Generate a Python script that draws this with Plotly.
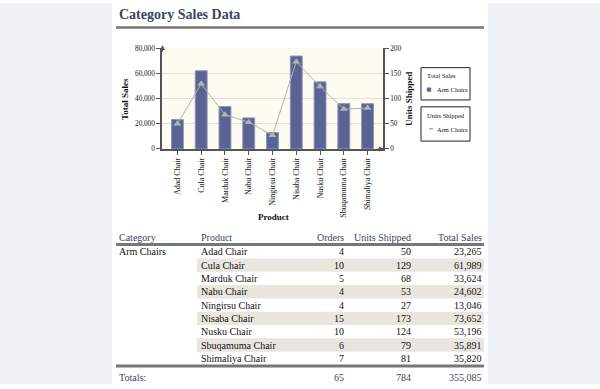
import plotly.graph_objects as go

# ---------------- data ----------------
products = ["Adad Chair", "Cula Chair", "Marduk Chair", "Nabu Chair", "Ningirsu Chair",
            "Nisaba Chair", "Nusku Chair", "Sbuqamuma Chair", "Shimaliya Chair"]
orders = [4, 10, 5, 4, 4, 15, 10, 6, 7]
units_shipped = [50, 129, 68, 53, 27, 173, 124, 79, 81]
total_sales = [23265, 61989, 33624, 24602, 13046, 73652, 53196, 35891, 35820]
category = "Arm Chairs"
sales_ticks = [0, 20000, 40000, 60000, 80000]
units_ticks = [0, 50, 100, 150, 200]
table_headers = ["Category", "Product", "Orders", "Units Shipped", "Total Sales"]

# ---------------- helpers ----------------
W, H = 600, 389
def fx(p): return p / W
def fy(p): return 1 - p / H

SERIF = "Liberation Serif"
SLATE = "#3b4562"
BAR = "#5b6394"
LINE = "#b3b3a7"
fmt = lambda v: f"{v:,}"

fig = go.Figure()

fig.add_trace(go.Bar(
    x=products, y=total_sales, name=category,
    marker=dict(color=BAR, line=dict(color="#8c93c0", width=1)),
))
fig.add_trace(go.Scatter(
    x=products, y=units_shipped, name=category, yaxis="y2",
    mode="lines+markers",
    line=dict(color=LINE, width=1),
    marker=dict(symbol="triangle-up", size=7, color=LINE),
))

shapes = [
    dict(type="rect", xref="paper", yref="paper", x0=0, x1=fx(112), y0=0, y1=1,
         fillcolor="#eef2f7", line_width=0, layer="below"),
    dict(type="rect", xref="paper", yref="paper", x0=fx(488), x1=1, y0=0, y1=1,
         fillcolor="#eef2f7", line_width=0, layer="below"),
    dict(type="line", xref="paper", yref="paper", x0=fx(116), x1=fx(484), y0=fy(25), y1=fy(25),
         line=dict(color="#777", width=2.5)),
]
annotations = [
    dict(text="<b>Category Sales Data</b>", x=fx(117), y=fy(12), xref="paper", yref="paper",
         xanchor="left", yanchor="middle", showarrow=False,
         font=dict(family=SERIF, size=14, color=SLATE)),
    dict(text="<b>Total Sales</b>", x=fx(125), y=fy(98), xref="paper", yref="paper",
         xanchor="center", yanchor="middle",
         textangle=-90, showarrow=False, font=dict(family=SERIF, size=9, color="#111")),
    dict(text="<b>Units Shipped</b>", x=fx(409), y=fy(98), xref="paper", yref="paper",
         xanchor="center", yanchor="middle",
         textangle=-90, showarrow=False, font=dict(family=SERIF, size=9, color="#111")),
    dict(text="<b>Product</b>", x=fx(273), y=fy(219), xref="paper", yref="paper",
         showarrow=False, font=dict(family=SERIF, size=9, color="#111")),
    dict(x=fx(162.5), y=fy(43), xref="paper", yref="paper", ax=0, ay=8, text="",
         showarrow=True, arrowhead=2, arrowsize=1, arrowwidth=1, arrowcolor="#555"),
    dict(x=fx(384), y=fy(149), xref="paper", yref="paper", ax=-8, ay=0, text="",
         showarrow=True, arrowhead=2, arrowsize=1, arrowwidth=1, arrowcolor="#555"),
]

# ---------------- legends (drawn boxes) ----------------
LEG_FONT = dict(family=SERIF, size=6.5, color="#111")
def txt(s, x, y, anchor="left", font=None):
    annotations.append(dict(text=s, x=fx(x), y=fy(y), xref="paper", yref="paper",
                            xanchor=anchor, yanchor="middle", showarrow=False,
                            font=font or LEG_FONT))
for (t0, t1) in [(66, 99), (106, 141)]:
    shapes.append(dict(type="rect", xref="paper", yref="paper", x0=fx(421), x1=fx(470),
                       y0=fy(t1), y1=fy(t0), line=dict(color="#222", width=1),
                       fillcolor="white"))
txt("Total Sales", 425, 74)
shapes.append(dict(type="rect", xref="paper", yref="paper", x0=fx(427), x1=fx(431),
                   y0=fy(90.5), y1=fy(86.5), fillcolor=BAR, line=dict(color="#8c93c0", width=0.5)))
txt(category, 435, 88.5)
txt("Units Shipped", 425, 115)
shapes.append(dict(type="line", xref="paper", yref="paper", x0=fx(429), x1=fx(433),
                   y0=fy(128.5), y1=fy(128.5), line=dict(color="#888", width=1)))
txt(category, 435, 129)

# ---------------- table ----------------
n = len(products)
ROW_H = 13.6
ROW0 = 254
BODY = dict(family=SERIF, size=10, color="#111")
HEAD = dict(family=SERIF, size=10, color=SLATE)
col_x = [117, 199, 346, 413, 484]
col_anchor = ["left", "left", "right", "right", "right"]

for i in range(1, n, 2):
    yc = ROW0 + ROW_H * i
    shapes.append(dict(type="rect", xref="paper", yref="paper", x0=fx(197), x1=fx(484),
                       y0=fy(yc + ROW_H / 2), y1=fy(yc - ROW_H / 2), fillcolor="#e9e6df",
                       line_width=0, layer="below"))
shapes.append(dict(type="line", xref="paper", yref="paper", x0=fx(116), x1=fx(484),
                   y0=fy(246.5), y1=fy(246.5), line=dict(color="#777", width=3)))
shapes.append(dict(type="line", xref="paper", yref="paper", x0=fx(116), x1=fx(484),
                   y0=fy(370.5), y1=fy(370.5), line=dict(color="#777", width=3)))

for h, x, a in zip(table_headers, col_x, col_anchor):
    txt(h, x, 239, a, HEAD)
for i in range(n):
    yc = ROW0 + ROW_H * i
    row = [category if i == 0 else "", products[i], str(orders[i]),
           str(units_shipped[i]), fmt(total_sales[i])]
    for v, x, a in zip(row, col_x, col_anchor):
        if v:
            txt(v, x, yc, a, BODY)
totals = ["Totals:", "", fmt(sum(orders)), fmt(sum(units_shipped)), fmt(sum(total_sales))]
for v, x, a in zip(totals, col_x, col_anchor):
    if v:
        txt(v, x, 382, a, HEAD)

axis_common = dict(showline=True, linecolor="#555", linewidth=1.5, ticks="outside",
                   ticklen=4, tickcolor="#555", zeroline=False)
TICKF = dict(family=SERIF, size=7.2, color="#111")

fig.update_layout(
    width=W, height=H,
    margin=dict(l=0, r=0, t=0, b=0),
    paper_bgcolor="white",
    plot_bgcolor="#fcfcf1",
    showlegend=False,
    bargap=0.5,
    xaxis=dict(domain=[fx(162), fx(383)], tickangle=-90,
               tickfont=dict(family=SERIF, size=8, color="#111"), **axis_common),
    yaxis=dict(domain=[fy(149), fy(46)], range=[0, 80000], tickvals=sales_ticks,
               tickformat=",", showgrid=True, gridcolor="#e2e2da", tickfont=TICKF,
               **axis_common),
    yaxis2=dict(overlaying="y", side="right", range=[0, 200], tickvals=units_ticks,
                showgrid=False, anchor="x", tickfont=TICKF, **axis_common),
    shapes=shapes,
    annotations=annotations,
)

fig.write_html("out.html", config={"displayModeBar": False},
               post_script="document.body.style.margin='0';document.body.style.overflow='hidden';")
